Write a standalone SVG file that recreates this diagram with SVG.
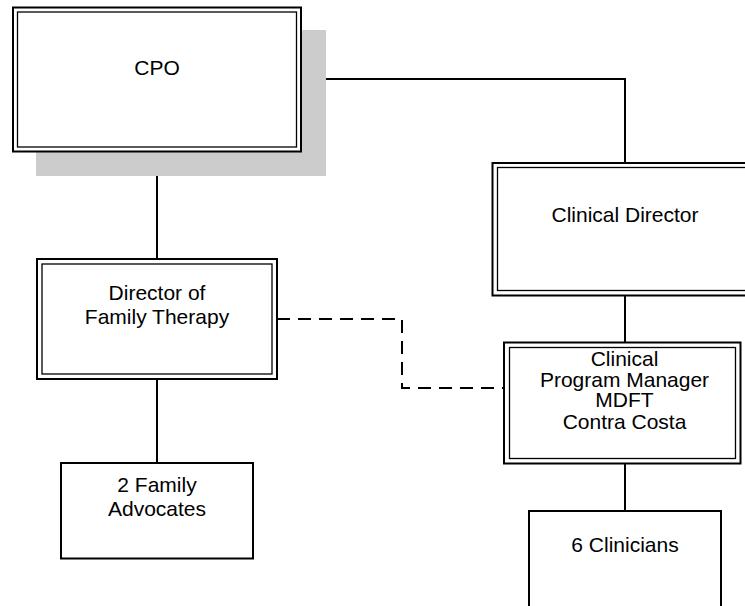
<svg xmlns="http://www.w3.org/2000/svg" width="745" height="606" viewBox="0 0 745 606">
<style>
.o{fill:#fff;stroke:#000;stroke-width:2}
.i{fill:none;stroke:#000;stroke-width:1.3}
.t{font-family:"Liberation Sans",Arial,sans-serif;font-size:21px;fill:#000;text-anchor:middle}
.c{fill:none;stroke:#000;stroke-width:2}
</style>
<rect width="745" height="606" fill="#fff"/>
<g id="connectors">
<polyline class="c" points="301,79 625,79 625,163"/>
<line class="c" x1="157" y1="152" x2="157" y2="259"/>
<line class="c" x1="625" y1="296" x2="625" y2="343"/>
<line class="c" x1="157" y1="379" x2="157" y2="463"/>
<line class="c" x1="625" y1="463" x2="625" y2="511"/>
<polyline class="c" points="277,319 402,319 402,388 504,388" stroke-dasharray="13 8"/>
</g>
<g id="cpo">
<rect x="36" y="30" width="290" height="146" fill="#cccccc"/>
<rect class="o" x="13" y="7.5" width="288" height="144"/>
<rect class="i" x="17.5" y="12" width="279" height="135"/>
<text class="t" x="157" y="75">CPO</text>
</g>
<g id="clinical-director">
<rect class="o" x="492.5" y="163" width="262" height="132.5"/>
<rect class="i" x="497.5" y="167.5" width="262" height="123"/>
<text class="t" x="625" y="222">Clinical Director</text>
</g>
<g id="director-family-therapy">
<rect class="o" x="37" y="259" width="240" height="120"/>
<rect class="i" x="42" y="264" width="230" height="110"/>
<text class="t" x="157" y="300">Director of</text>
<text class="t" x="157" y="324">Family Therapy</text>
</g>
<g id="clinical-program-manager">
<rect class="o" x="504" y="342.5" width="236.5" height="121"/>
<rect class="i" x="509.5" y="347.5" width="226" height="111"/>
<text class="t" x="624.5" y="366">Clinical</text>
<text class="t" x="624.5" y="386.5">Program Manager</text>
<text class="t" x="624.5" y="407">MDFT</text>
<text class="t" x="624.5" y="429">Contra Costa</text>
</g>
<g id="family-advocates">
<rect class="o" x="61" y="463" width="192" height="95.5"/>
<text class="t" x="157" y="492">2 Family</text>
<text class="t" x="157" y="516">Advocates</text>
</g>
<g id="clinicians">
<rect class="o" x="529" y="511" width="192" height="110"/>
<text class="t" x="625" y="552">6 Clinicians</text>
</g>
</svg>
